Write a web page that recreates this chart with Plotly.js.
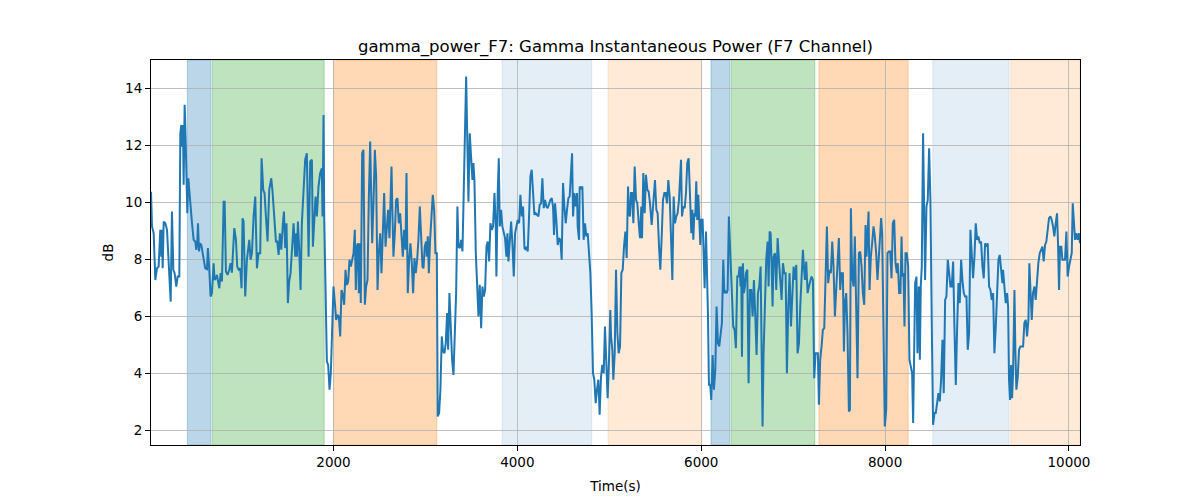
<!DOCTYPE html>
<html>
<head>
<meta charset="utf-8">
<script src="https://cdn.plot.ly/plotly-3.0.1.min.js"></script>
<style>
  html, body { margin: 0; padding: 0; background: #fff; }
  #chart { width: 1200px; height: 500px; }
</style>
</head>
<body>
<div id="chart"></div>
<script>
// time stamps (s) of the gamma power trace
const timeSec = [
  15,26,44,62,80,98,116,127,134,142,
  153,171,189,200,214,229,243,258,272,290,
  305,323,334,345,355,363,370,381,392,403,
  410,421,432,443,461,479,497,508,519,526,
  537,548,562,577,591,605,624,634,649,663,
  678,696,707,721,732,743,758,772,787,805,
  816,830,848,866,881,895,910,921,939,953,
  968,986,1000,1011,1022,1040,1058,1084,1098,1113,
  1131,1149,1167,1185,1203,1218,1236,1250,1265,1283,
  1301,1323,1337,1355,1374,1388,1403,1417,1432,1450,
  1461,1475,1489,1504,1518,1533,1547,1566,1584,1595,
  1602,1613,1627,1642,1656,1674,1692,
  1710,1729,1747,1765,1776,1790,1805,1819,1837,1855,
  1873,1881,1892,1899,1913,1928,1942,1957,1971,1986,
  2000,2015,2029,2044,2058,2073,2087,2102,2116,2131,
  2145,2160,2174,2189,2203,2218,2232,2243,2254,2265,
  2276,2287,2297,2312,2326,2341,2355,2370,2384,2399,
  2410,2421,2435,2450,2464,2479,2493,2508,2522,2537,
  2551,2566,2580,2594,2609,2620,2631,2642,2652,2667,
  2681,2696,2710,2725,2739,2754,2768,2783,2794,2808,
  2823,2837,2852,2866,2881,2895,2910,2924,2939,2953,
  2968,2979,2993,3007,3015,3026,3037,3051,3066,3080,
  3095,3109,3124,3134,3149,3163,3178,3192,3207,3221,
  3236,3247,3261,3276,3290,3305,3319,3334,
  3348,3359,3374,3388,3403,3417,3432,3443,3453,3468,
  3482,3497,3511,3522,3533,3548,3562,3577,3591,3606,
  3620,3635,3649,3664,3678,3693,3707,3722,3736,3751,
  3765,3772,3787,3798,3809,3823,3837,3852,3866,3881,
  3892,3903,3917,3932,3946,3961,3975,3990,4004,4019,
  4033,4048,4062,4077,4091,4102,4113,4127,4142,4156,
  4171,4185,4200,4214,4229,4243,4258,4272,4287,4301,
  4316,4330,4345,4359,4374,4388,4399,4410,4424,4439,
  4453,4468,4482,4497,4511,4526,4540,4555,4569,4584,
  4595,4606,4620,4635,4649,4656,4671,4678,4692,4707,
  4721,4736,4750,4765,4779,4794,4808,4823,4837,4852,
  4866,4881,4895,4910,4924,4939,4953,4968,4982,4997,
  5011,
  5019,5033,5044,5059,5073,5088,5102,5117,5131,5146,
  5160,5175,5189,5204,5214,5225,5236,5247,5262,5276,
  5291,5305,5320,5334,5348,5356,5370,5385,5399,5414,
  5428,5443,5461,5479,5497,5512,5526,5541,5555,5570,
  5584,5599,5613,5628,5642,5657,5671,5686,5700,5714,
  5729,5743,5758,5769,5780,5791,5805,5820,5834,5848,
  5863,5877,5892,5903,5914,5925,5935,5946,5957,5968,
  5979,5990,6001,6015,6026,6037,6052,6062,6073,6084,
  6098,6109,6124,6138,6153,6167,6182,6196,6211,6225,
  6240,6251,6262,6276,6287,6301,6316,6330,6348,6363,
  6377,6392,6406,6417,6428,6435,6443,6453,6464,6475,
  6486,6501,6515,6530,6544,6559,6573,6588,6602,6617,
  6631,6646,6656,6667,6678,6693,
  6707,6722,6733,6744,6755,6765,6776,6787,6802,6816,
  6831,6845,6860,6874,6889,6903,6918,6932,6947,6961,
  6976,6990,7005,7019,7034,7048,7063,7077,7091,7106,
  7117,7128,7142,7157,7171,7186,7200,7215,7229,7244,
  7258,7269,7280,7294,7309,7323,7338,7352,7367,7381,
  7396,7410,7425,7439,7454,7468,7483,7497,7512,7526,
  7541,7552,7563,7577,7591,7606,7617,7628,7642,7657,
  7671,7686,7700,7715,7729,7744,7758,7773,7787,7798,
  7809,7820,7831,7845,7859,7874,7888,7903,7917,7932,
  7946,7957,7968,7983,7997,8012,8026,8041,8055,8070,
  8084,8099,8113,8128,8138,8153,8167,8179,8189,8200,
  8211,8222,8236,8251,8265,8280,8294,8305,8316,8327,
  8341,8352,8367,8378,8388,8399,8413,
  8435,8450,8464,8479,8493,8508,8522,8537,8551,8566,
  8580,8595,8609,8624,8638,8653,8667,8682,8696,8711,
  8725,8740,8754,8769,8783,8798,8812,8827,8841,8856,
  8870,8885,8899,8914,8928,8943,8957,8972,8986,9001,
  9015,9030,9044,9059,9073,9088,9102,9116,9131,9146,
  9160,9175,9189,9204,9218,9233,9247,9262,9276,9283,
  9298,9312,9327,9338,9348,9359,9370,9381,9392,9407,
  9417,9428,9443,9457,9472,9486,9501,9515,9530,9544,
  9559,9569,9580,9595,9609,9624,9638,9653,9667,9682,
  9696,9711,9725,9740,9754,9769,9783,9798,9812,9827,
  9841,9856,9870,9881,9892,9903,9917,9928,9943,9957,
  9972,9986,10001,10015,10030,10041,10051,10066,10080,10095,
  10109,10120
];

// gamma instantaneous power (dB), same order as timeSec
const gammaDb = [
  10.37,9.15,8.91,7.27,7.68,7.74,9.03,8.09,9.03,7.68,
  9.32,9.26,9.03,8.21,7.04,6.51,9.67,7.63,7.51,7.04,
  7.39,7.39,12.42,12.71,11.95,12.71,10.61,13.42,12.19,10.78,
  9.61,10.84,10.32,9.85,9.26,8.68,8.62,8.33,8.62,9.26,
  8.27,8.56,8.50,8.21,7.86,7.68,7.65,8.39,7.63,6.69,
  6.81,7.86,7.27,7.33,7.45,7.27,6.98,7.51,7.22,10.02,
  10.02,7.57,7.45,7.63,7.86,7.53,8.44,9.09,8.68,7.74,
  7.63,7.68,6.98,9.44,9.32,6.69,7.98,8.68,7.98,8.21,
  9.50,10.20,7.68,8.21,8.21,11.54,10.43,10.32,9.50,8.62,
  10.43,10.84,10.37,9.38,8.62,8.62,8.15,8.91,8.33,9.26,
  9.67,8.39,9.26,6.46,7.22,7.51,8.33,9.26,8.09,8.91,
  8.09,9.32,8.33,6.92,9.26,10.55,11.49,
  11.72,8.09,11.43,11.49,8.44,9.50,10.20,9.50,10.55,11.02,
  11.19,9.50,13.06,9.50,7.04,4.41,4.29,3.42,4.00,5.41,
  7.04,6.46,5.87,6.05,5.99,5.29,6.92,6.75,6.40,7.63,
  7.10,7.22,7.98,7.74,7.98,8.21,9.03,6.92,8.44,8.56,
  6.81,8.56,6.46,11.72,11.84,6.40,7.04,7.27,10.08,12.13,
  10.32,8.56,9.96,11.84,10.90,6.92,8.21,8.91,7.51,8.80,
  10.32,8.44,9.15,9.73,8.74,9.73,11.25,9.50,8.09,8.91,
  10.08,10.14,9.26,9.61,9.03,8.09,9.03,8.33,11.02,6.81,
  7.98,8.56,7.86,6.81,8.04,7.51,7.98,8.68,9.85,8.44,
  7.74,7.68,8.44,8.62,8.09,8.80,7.51,8.68,9.73,10.26,
  9.73,8.21,8.21,2.48,2.60,3.42,5.29,4.76,4.70,5.05,
  6.11,4.82,6.81,5.41,4.47,3.94,5.17,6.81,
  9.85,8.44,8.39,8.68,8.27,10.55,12.65,14.41,12.65,10.02,
  12.42,11.72,10.78,11.37,10.78,8.21,6.81,5.99,7.10,5.58,
  7.04,6.69,6.92,8.44,8.62,7.92,9.26,9.03,9.15,10.32,
  9.15,7.39,10.43,11.54,9.15,9.73,9.15,8.91,8.74,8.09,
  8.91,7.92,8.56,9.32,8.56,7.39,8.91,9.15,9.38,9.26,
  10.26,9.50,9.85,8.39,8.33,8.44,8.27,9.50,10.90,11.14,
  10.32,9.56,9.61,9.56,9.50,9.91,9.96,10.84,9.79,10.08,
  9.85,9.79,9.96,10.08,10.14,9.85,8.85,9.96,9.38,8.50,
  8.74,8.68,7.98,10.67,9.85,9.26,9.73,10.14,10.20,11.02,
  11.72,9.50,10.32,9.85,10.32,9.15,8.68,10.55,10.49,10.55,
  8.68,9.26,8.80,8.91,8.33,7.51,6.11,4.00,3.77,2.95,
  3.42,3.77,2.54,3.88,4.29,4.00,5.64,4.23,3.12,4.47,
  6.22,
  5.29,4.82,3.77,4.70,7.63,5.41,4.70,4.94,7.51,7.63,
  8.44,8.97,8.04,10.55,9.61,9.50,10.32,10.32,9.26,11.25,
  10.08,9.96,9.26,8.74,9.85,8.74,11.02,9.61,10.96,10.43,
  10.37,9.96,9.20,9.85,10.78,9.73,9.61,8.44,7.63,8.80,
  10.08,10.32,10.32,9.96,10.78,10.20,8.44,7.27,10.20,9.26,
  9.50,9.61,10.08,10.90,11.49,9.50,9.85,9.79,10.32,11.37,
  11.54,10.32,8.91,9.73,8.68,9.61,9.50,10.73,9.38,10.26,
  9.38,8.50,9.38,9.38,8.21,6.98,8.97,7.98,6.11,3.59,
  3.59,3.06,4.64,3.42,4.12,6.34,5.05,4.94,5.41,5.76,
  7.98,6.81,6.87,6.81,6.92,9.50,8.21,6.81,5.64,5.52,
  4.88,7.39,7.39,7.74,7.04,7.74,4.58,7.86,6.81,7.04,
  7.51,7.63,3.65,6.92,6.92,5.99,7.27,5.99,4.64,6.81,
  7.04,7.74,5.05,2.13,4.70,6.81,
  7.98,8.62,7.04,8.97,8.91,7.86,6.34,8.09,8.21,6.92,
  8.74,7.98,7.39,6.57,7.86,7.51,7.51,4.00,6.34,7.51,
  5.64,7.04,7.74,7.27,7.80,4.70,5.05,6.34,7.51,8.33,
  7.74,7.27,7.92,6.81,7.04,7.27,7.39,7.27,3.82,4.70,
  4.70,4.70,2.89,4.47,4.94,5.52,5.58,6.92,9.15,7.16,
  7.63,7.51,8.62,7.74,5.99,6.92,7.98,8.74,6.92,7.51,
  7.51,4.76,6.46,6.81,5.41,2.66,2.71,9.79,7.39,7.04,
  8.80,6.22,3.82,8.21,8.27,7.74,6.81,6.40,9.20,8.09,
  9.26,9.67,6.92,8.09,8.56,9.15,8.80,8.21,7.27,7.98,
  8.68,9.44,8.91,5.87,2.13,2.71,8.21,8.27,8.27,7.33,
  9.26,9.38,7.86,7.51,7.86,6.81,6.81,8.80,7.39,7.51,
  5.64,8.21,8.21,7.74,4.47,4.23,4.00,2.25,5.05,7.16,
  7.39,4.70,7.04,4.47,7.04,7.74,12.42,
  7.27,9.85,10.08,11.89,10.08,5.64,2.19,2.60,2.60,2.95,
  3.30,3.01,3.77,5.17,3.30,6.57,6.69,7.98,7.51,7.04,
  7.04,7.92,5.64,3.59,5.52,7.16,6.46,7.98,7.27,6.81,
  6.69,6.69,4.82,5.41,9.03,8.21,7.33,8.09,9.26,8.68,
  8.80,8.56,8.62,7.74,7.33,8.56,8.44,8.56,7.04,6.92,
  6.57,6.81,4.70,5.64,6.57,7.98,8.15,7.51,7.16,7.63,
  7.04,6.46,6.81,6.34,3.77,3.06,4.29,3.12,4.00,6.92,
  4.82,3.42,3.88,4.82,4.94,4.94,4.94,5.76,5.87,5.29,
  5.87,7.86,6.92,5.87,6.81,7.04,6.57,7.27,7.86,8.21,
  8.33,8.44,7.92,8.50,8.62,9.15,9.44,9.50,9.38,9.15,
  8.80,9.26,9.61,8.56,6.92,8.44,8.44,7.98,7.98,7.98,
  8.97,7.39,7.74,7.98,8.21,9.96,9.26,8.68,8.91,8.68,
  8.91,8.56
];

// shaded epochs (s)
const epochStart = [410, 682, 2000, 3834, 4986, 6106, 6326, 7280, 8519, 9367];
const epochEnd   = [667, 1899, 3124, 4809, 6004, 6312, 7236, 8251, 9349, 10120];
const epochKind  = ['blue','green','orange','paleBlue','paleOrange','blue','green','orange','paleBlue','paleOrange'];

const yTicks = [2, 4, 6, 8, 10, 12, 14];
const xTicks = [2000, 4000, 6000, 8000, 10000];

const kindColor = {
  blue:       'rgba(31,119,180,0.3)',
  green:      'rgba(44,160,44,0.3)',
  orange:     'rgba(255,127,14,0.3)',
  paleBlue:   'rgba(31,119,180,0.12)',
  paleOrange: 'rgba(255,127,14,0.16)'
};

const shapes = epochStart.map((s, i) => ({
  type: 'rect', xref: 'x', yref: 'paper', x0: s, x1: epochEnd[i], y0: 0, y1: 1,
  fillcolor: kindColor[epochKind[i]], line: { width: 1, color: kindColor[epochKind[i]] }, layer: 'below'
}));

const font = { family: 'DejaVu Sans, sans-serif', color: '#000' };

const trace = {
  type: 'scatter', mode: 'lines', x: timeSec, y: gammaDb,
  line: { color: '#1f77b4', width: 2 }, hoverinfo: 'x+y'
};

const layout = {
  width: 1200, height: 500,
  margin: { l: 151, r: 120, t: 60, b: 55 },
  paper_bgcolor: '#fff', plot_bgcolor: 'rgba(0,0,0,0)',
  showlegend: false,
  font: { ...font, size: 14 },
  title: { text: 'gamma_power_F7: Gamma Instantaneous Power (F7 Channel)', font: { ...font, size: 16.5 },
           x: 0.5, xref: 'paper', xanchor: 'center', y: 0.908, yref: 'container', yanchor: 'middle' },
  xaxis: {
    range: [15, 10120], tickvals: xTicks, ticktext: xTicks.map(String),
    showgrid: true, gridcolor: '#b0b0b0', gridwidth: 0.8, zeroline: false,
    showline: true, linecolor: '#000', linewidth: 1, mirror: true,
    ticks: 'outside', ticklen: 5, tickcolor: '#000', tickfont: { ...font, size: 13.5 },
    title: { text: 'Time(s)', font: { ...font, size: 13.5 }, standoff: 12 }
  },
  yaxis: {
    range: [1.48, 14.99], tickvals: yTicks, ticktext: yTicks.map(String),
    showgrid: true, gridcolor: '#b0b0b0', gridwidth: 0.8, zeroline: false,
    showline: true, linecolor: '#000', linewidth: 1, mirror: true,
    ticks: 'outside', ticklen: 5, tickcolor: '#000', tickfont: { ...font, size: 13.5 },
    title: { text: 'dB', font: { ...font, size: 13.5 }, standoff: 8 }
  },
  shapes: shapes
};

Plotly.newPlot('chart', [trace], layout, { displayModeBar: false, staticPlot: true });
</script>
</body>
</html>
